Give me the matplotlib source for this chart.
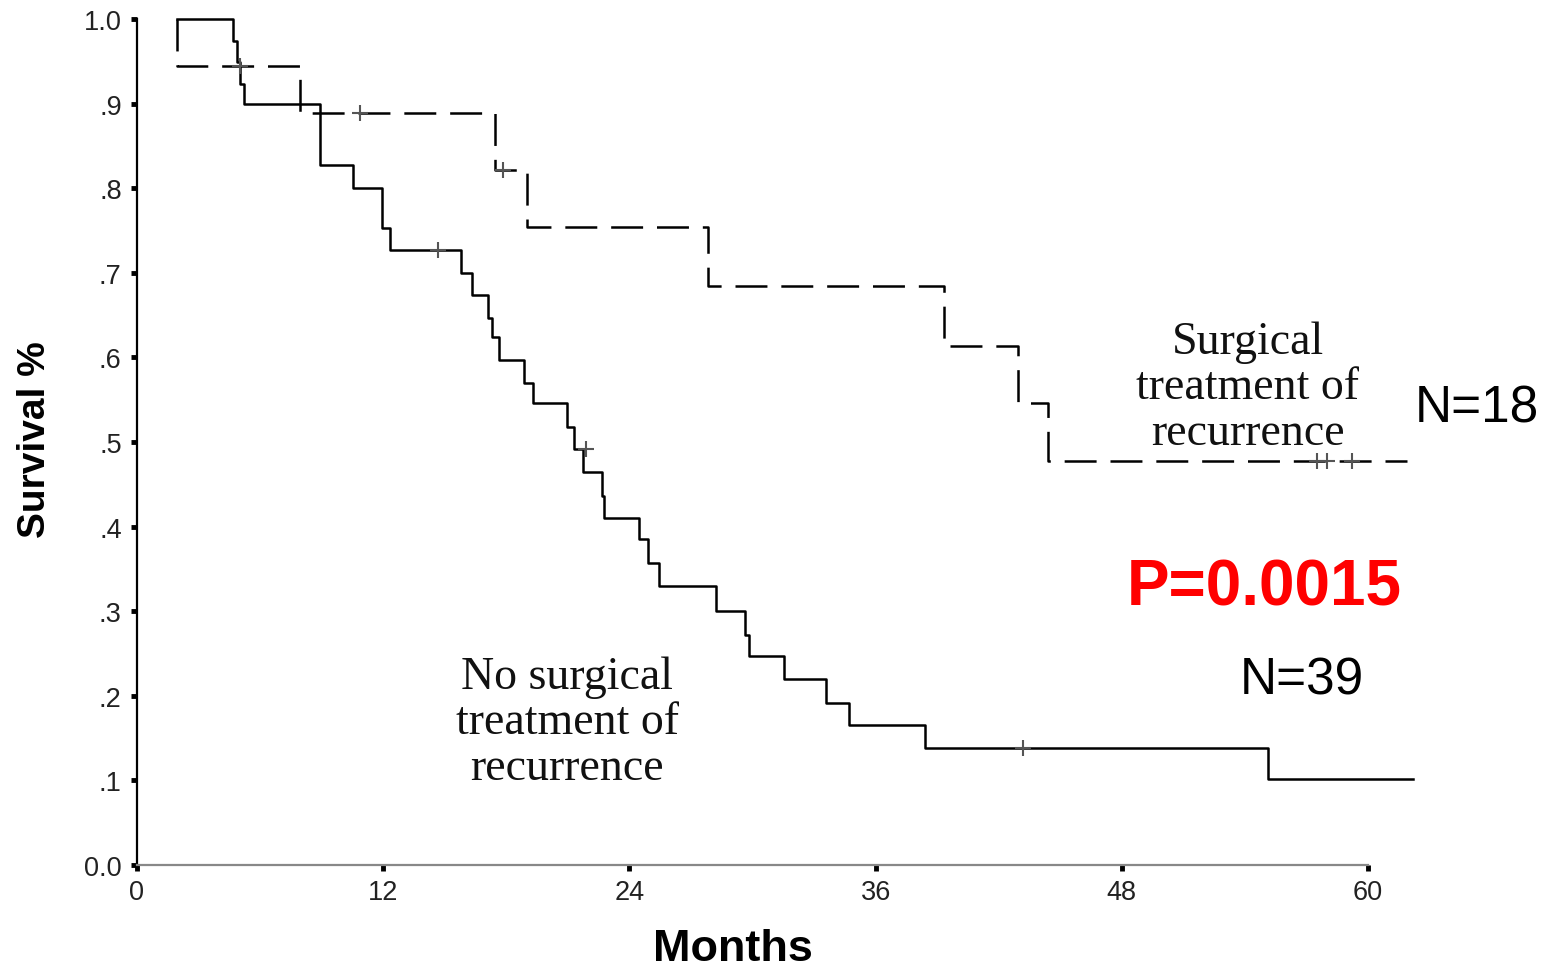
import numpy as np
import matplotlib
matplotlib.use("Agg")
from matplotlib import pyplot as plt

# Kaplan-Meier steps (months, survival fraction)
no_surg_t = [1.95, 4.68, 4.86, 5.02, 5.21, 8.92, 10.54, 11.95, 12.33, 15.77, 16.31,
             17.09, 17.32, 17.64, 18.87, 19.31, 20.94, 21.30, 21.75, 22.68, 22.76,
             24.48, 24.89, 25.44, 28.20, 29.63, 29.84, 31.55, 33.58, 34.70, 38.40,
             55.12, 62.18]
no_surg_s = [1.0, 0.974, 0.949, 0.923, 0.900, 0.827, 0.800, 0.753, 0.727, 0.700, 0.674,
             0.647, 0.624, 0.597, 0.570, 0.546, 0.518, 0.492, 0.465, 0.436, 0.410,
             0.385, 0.357, 0.330, 0.300, 0.272, 0.247, 0.220, 0.192, 0.165, 0.138,
             0.102, 0.102]
no_surg_cens_t = [14.68, 21.9, 43.2]
no_surg_cens_s = [0.727, 0.492, 0.138]

surg_t = [1.95, 1.95, 7.94, 17.45, 19.02, 27.84, 39.34, 42.95, 44.38, 61.89]
surg_s = [1.0, 0.944, 0.889, 0.822, 0.754, 0.684, 0.614, 0.546, 0.478, 0.478]
surg_cens_t = [5.02, 10.87, 17.82, 57.5, 58.0, 59.2]
surg_cens_s = [0.944, 0.889, 0.822, 0.478, 0.478, 0.478]

x_ticks = [0, 12, 24, 36, 48, 60]
y_ticks = [0.0, 0.1, 0.2, 0.3, 0.4, 0.5, 0.6, 0.7, 0.8, 0.9, 1.0]
y_tick_labels = ["0.0", ".1", ".2", ".3", ".4", ".5", ".6", ".7", ".8", ".9", "1.0"]

plt.rcParams["font.family"] = ["Liberation Sans", "DejaVu Sans"]
plt.rcParams["lines.scale_dashes"] = False

W, H = 1547, 970
fig = plt.figure(figsize=(W / 100, H / 100), dpi=100)
ax = fig.add_axes([137 / W, 1 - 866 / H, (1368 - 137) / W, (866 - 20) / H])

# curves
ax.step(no_surg_t, no_surg_s, where="post", color="black", lw=1.8, clip_on=False)
ax.step(surg_t, surg_s, where="post", color="black", lw=1.8,
        linestyle=(0, (23, 10)), clip_on=False)

# censor marks
ax.plot(no_surg_cens_t, no_surg_cens_s, "+", color="#555555", ms=11, mew=1.5, clip_on=False)
ax.plot(surg_cens_t, surg_cens_s, "+", color="#555555", ms=11, mew=1.5, clip_on=False)

ax.set_xlim(0, 60)
ax.set_ylim(0, 1)
ax.set_xticks(x_ticks)
ax.set_xticklabels([str(t) for t in x_ticks])
ax.set_yticks(y_ticks)
ax.set_yticklabels(y_tick_labels)
ax.tick_params(axis="both", direction="out", length=4, width=3.5, labelsize=19.5,
               colors="black", labelcolor="#222222")
ax.tick_params(axis="y", pad=7)
ax.tick_params(axis="x", pad=6)

ax.spines["top"].set_visible(False)
ax.spines["right"].set_visible(False)
ax.spines["left"].set_linewidth(1.6)
ax.spines["bottom"].set_linewidth(1.6)
ax.spines["bottom"].set_color("#888888")

# annotations
ax.text(54.14, 0.565, "Surgical\ntreatment of\nrecurrence", family="Liberation Serif",
        fontsize=33, ha="center", va="center", linespacing=1.1, color="#111111",
        clip_on=False)
ax.text(20.96, 0.169, "No surgical\ntreatment of\nrecurrence", family="Liberation Serif",
        fontsize=33, ha="center", va="center", linespacing=1.1, color="#111111",
        clip_on=False)
ax.text(62.28, 0.540, "N=18", fontsize=37, ha="left", va="center", clip_on=False)
ax.text(53.75, 0.219, "N=39", fontsize=37, ha="left", va="center", clip_on=False)
ax.text(54.92, 0.328, "P=0.0015", fontsize=46, fontweight="bold", color="#ff0000",
        ha="center", va="center", clip_on=False)

fig.text(35 / W, 1 - 440 / H, "Survival %", rotation=90, fontsize=28,
         fontweight="bold", ha="center", va="center")
fig.text(733 / W, 1 - 950 / H, "Months", fontsize=32.5, fontweight="bold",
         ha="center", va="center")

fig.savefig("out.png", dpi=100)
